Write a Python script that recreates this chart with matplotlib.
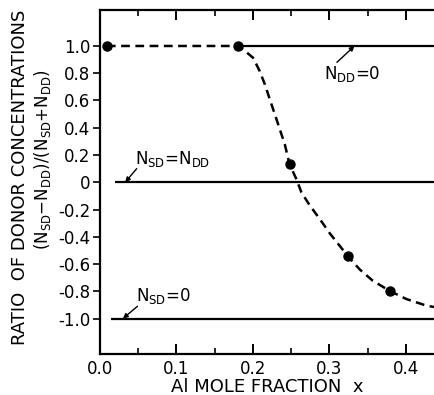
import matplotlib
matplotlib.use("Agg")
import matplotlib.pyplot as plt
from matplotlib.ticker import FixedLocator

plt.rcParams['font.family'] = ['DejaVu Sans']
plt.rcParams['mathtext.default'] = 'regular'

# measured points
pts_x = [0.009, 0.18, 0.248, 0.325, 0.380]
pts_y = [1.0, 1.0, 0.132, -0.544, -0.80]

# dashed guide curve
curve_x = [0.009, 0.18, 0.1874, 0.2004, 0.209, 0.2157, 0.2222, 0.2288, 0.2353,
           0.2418, 0.248, 0.257, 0.2636, 0.2745, 0.2876, 0.3007, 0.3246, 0.3399,
           0.357, 0.380, 0.401, 0.427, 0.437]
curve_y = [1.0, 1.0, 0.974, 0.913, 0.815, 0.718, 0.608, 0.498, 0.388,
           0.278, 0.132, 0.022, -0.075, -0.170, -0.270, -0.375, -0.544, -0.64,
           -0.723, -0.80, -0.857, -0.905, -0.915]

# reference lines: (label, y, x start)
ref_names = ["N$_{DD}$=0", "N$_{SD}$=N$_{DD}$", "N$_{SD}$=0"]
ref_y = [1.0, 0.0, -1.0]
ref_x0 = [0.185, 0.019, 0.015]
x_end = 0.437

xticks = [0.0, 0.1, 0.2, 0.3, 0.4]
xtick_labels = ["0.0", "0.1", "0.2", "0.3", "0.4"]
yticks = [1.0, 0.8, 0.6, 0.4, 0.2, 0.0, -0.2, -0.4, -0.6, -0.8, -1.0]
ytick_labels = ["1.0", "0.8", "0.6", "0.4", "0.2", "0", "-0.2", "-0.4", "-0.6", "-0.8", "-1.0"]

fig = plt.figure(figsize=(4.34, 3.95), dpi=100)
ax = fig.add_axes([0.2304, 0.1038, 0.7696, 0.8709])
ax.set_xlim(0.0, x_end)
ax.set_ylim(-1.26, 1.264)

for y, x0 in zip(ref_y, ref_x0):
    ax.plot([x0, x_end], [y, y], color='black', lw=1.6, solid_capstyle='butt')

ax.plot(curve_x, curve_y, color='black', lw=1.8, dashes=(3.5, 2.2))
ax.plot(pts_x, pts_y, 'o', color='black', ms=6.5, clip_on=False, zorder=5)

# annotations
arrowp = dict(arrowstyle='-|>', color='black', lw=1.0, mutation_scale=7, shrinkA=0, shrinkB=0)
ax.annotate("", xy=(0.033, 0.0), xytext=(0.048, 0.1), arrowprops=arrowp)
ax.text(0.046, 0.100, ref_names[1], fontsize=12, ha='left', va='bottom')
ax.annotate("", xy=(0.030, -1.0), xytext=(0.049, -0.91), arrowprops=arrowp)
ax.text(0.047, -0.905, ref_names[2], fontsize=12, ha='left', va='bottom')
ax.annotate("", xy=(0.333, 1.0), xytext=(0.310, 0.88), arrowprops=arrowp)
ax.text(0.293, 0.87, ref_names[0], fontsize=12, ha='left', va='top')

ax.set_xticks(xticks)
ax.set_xticklabels(xtick_labels)
ax.xaxis.set_minor_locator(FixedLocator([0.05, 0.15, 0.25, 0.35]))
ax.set_yticks(yticks)
ax.set_yticklabels(ytick_labels)
ax.tick_params(axis='x', which='major', direction='in', length=7, width=1.4,
               top=True, bottom=True, labelsize=12, pad=4)
ax.tick_params(axis='x', which='minor', direction='in', length=4, width=1.2,
               top=True, bottom=True)
ax.tick_params(axis='y', which='major', direction='out', length=5, width=1.2,
               labelsize=12, pad=2)

for s in ['left', 'bottom', 'top']:
    ax.spines[s].set_linewidth(1.6)
ax.spines['right'].set_visible(False)

ax.set_xlabel("Al MOLE FRACTION  x", fontsize=13, labelpad=0)
fig.text(0.046, 0.552, "RATIO  OF DONOR CONCENTRATIONS", rotation=90,
         fontsize=13, ha='center', va='center')
fig.text(0.099, 0.595, "(N$_{SD}$$-$N$_{DD}$)/(N$_{SD}$+N$_{DD}$)", rotation=90,
         fontsize=12, ha='center', va='center')

fig.savefig("out.png", dpi=100)
